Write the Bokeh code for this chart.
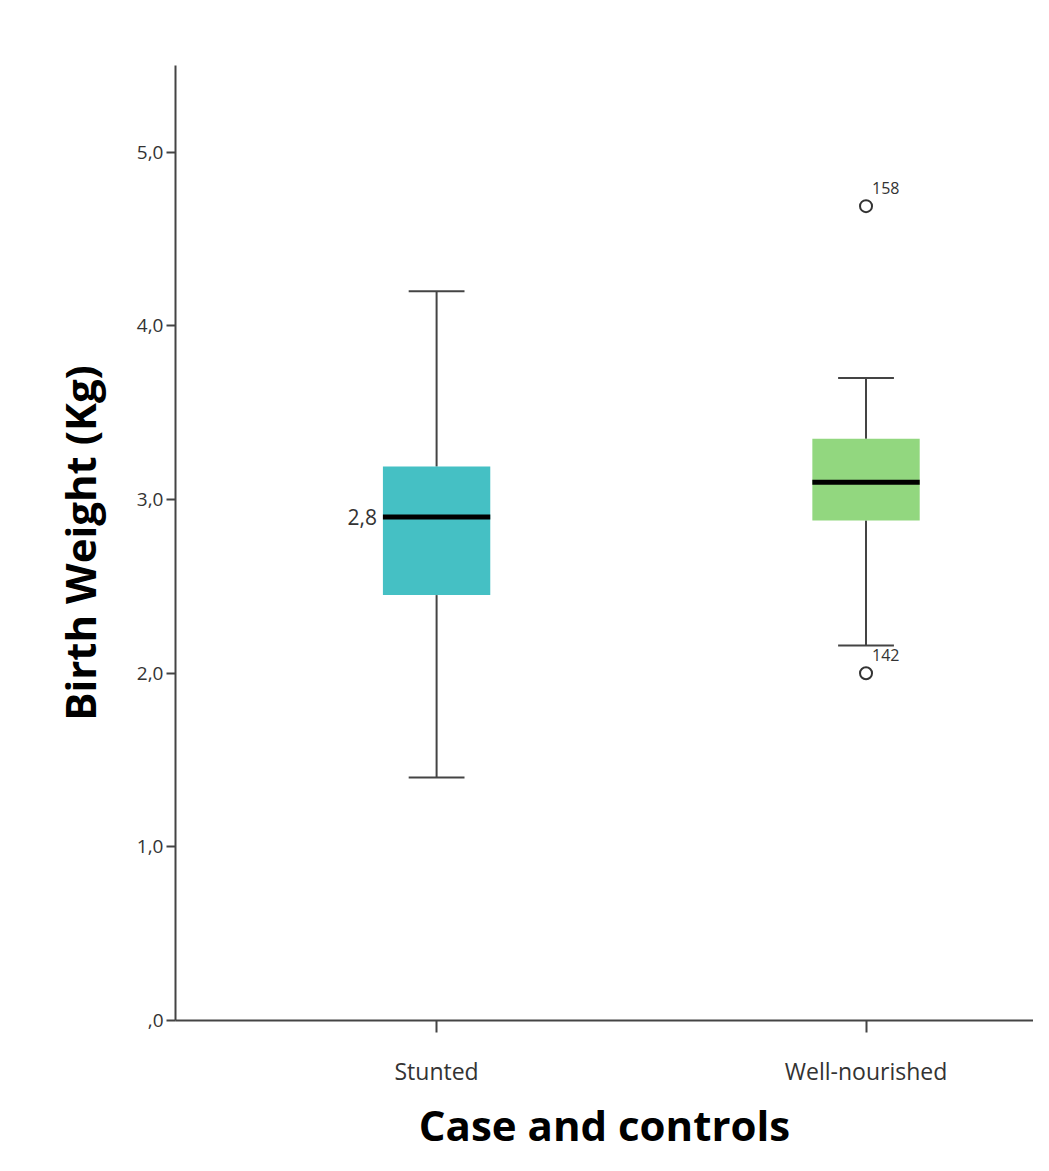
import numpy as np
from bokeh.plotting import figure
from bokeh.models import Range1d, FixedTicker, ColumnDataSource
from bokeh.core.properties import value
from bokeh.embed import file_html
from bokeh.resources import INLINE

# ---- data ----
categories = ["Stunted", "Well-nourished"]
q1 = [2.45, 2.88]
medians = [2.90, 3.10]
q3 = [3.19, 3.35]
whisker_low = [1.40, 2.16]
whisker_high = [4.20, 3.70]
box_colors = ["#45C0C4", "#92D77F"]
outlier_cat = ["Well-nourished", "Well-nourished"]
outlier_val = [4.69, 2.00]
outlier_id = ["158", "142"]
median_note = "2,8"
y_ticks = [0, 1, 2, 3, 4, 5]
y_tick_labels = [",0", "1,0", "2,0", "3,0", "4,0", "5,0"]

pos = {c: i + 1 for i, c in enumerate(categories)}
xs = np.array([pos[c] for c in categories], dtype=float)
box_w = 0.25
cap_w = 0.13
FONT = "Open Sans"

p = figure(width=1033, height=1155, output_backend="svg", toolbar_location=None,
           x_range=Range1d(0.392, 2.39), y_range=Range1d(0, 5.5),
           min_border_left=175, min_border_right=0, min_border_top=65,
           min_border_bottom=135)
p.outline_line_color = None
p.xgrid.visible = False
p.ygrid.visible = False
p.background_fill_color = "white"
p.border_fill_color = "white"

src = ColumnDataSource(dict(x=xs, q1=q1, q3=q3, med=medians, lo=whisker_low,
                            hi=whisker_high, color=box_colors,
                            xl=xs - box_w / 2, xr=xs + box_w / 2,
                            cl=xs - cap_w / 2, cr=xs + cap_w / 2))

# whiskers
p.segment(x0="x", x1="x", y0="q3", y1="hi", source=src, line_color="#444444", line_width=2)
p.segment(x0="x", x1="x", y0="q1", y1="lo", source=src, line_color="#444444", line_width=2)
p.segment(x0="cl", x1="cr", y0="hi", y1="hi", source=src, line_color="#444444", line_width=2)
p.segment(x0="cl", x1="cr", y0="lo", y1="lo", source=src, line_color="#444444", line_width=2)
# boxes
p.vbar(x="x", width=box_w, bottom="q1", top="q3", source=src, fill_color="color", line_color=None)
# medians
p.segment(x0="xl", x1="xr", y0="med", y1="med", source=src, line_color="black", line_width=5)

# outliers
ox = [pos[c] for c in outlier_cat]
osrc = ColumnDataSource(dict(x=ox, y=outlier_val, t=outlier_id))
p.scatter(x="x", y="y", source=osrc, marker="circle", size=12, fill_color=None,
          line_color="#333333", line_width=2)
p.text(x="x", y="y", text="t", source=osrc, x_offset=6, y_offset=-12,
       text_font=value(FONT), text_font_size="16px",
       text_color="#333333", text_baseline="bottom", text_align="left")

# median note
p.text(x=[xs[0] - box_w / 2], y=[medians[0]], text=[median_note], x_offset=-6,
       text_font=value(FONT), text_font_size="21px",
       text_color="#333333", text_baseline="middle", text_align="right")

# axes
p.yaxis.ticker = FixedTicker(ticks=y_ticks)
p.yaxis.major_label_overrides = {t: l for t, l in zip(y_ticks, y_tick_labels)}
p.yaxis.minor_tick_line_color = None
p.yaxis.major_tick_in = 0
p.yaxis.major_tick_out = 9
p.yaxis.major_tick_line_width = 2
p.yaxis.major_tick_line_color = "#444444"
p.yaxis.axis_line_width = 2
p.yaxis.axis_line_color = "#444444"
p.yaxis.major_label_text_font = FONT
p.yaxis.major_label_text_font_size = "19px"
p.yaxis.major_label_text_color = "#333333"
p.yaxis.major_label_standoff = 3
p.yaxis.axis_label = "Birth Weight (Kg)"
p.yaxis.axis_label_text_font = FONT
p.yaxis.axis_label_text_font_style = "bold"
p.yaxis.axis_label_text_font_size = "42px"
p.yaxis.axis_label_text_color = "black"
p.yaxis.axis_label_standoff = 26

p.xaxis.ticker = FixedTicker(ticks=list(xs))
p.xaxis.major_label_overrides = {int(pos[c]): c for c in categories}
p.xaxis.minor_tick_line_color = None
p.xaxis.major_tick_in = 0
p.xaxis.major_tick_out = 12
p.xaxis.major_tick_line_width = 2
p.xaxis.major_tick_line_color = "#444444"
p.xaxis.axis_line_width = 2
p.xaxis.axis_line_color = "#444444"
p.xaxis.major_label_text_font = FONT
p.xaxis.major_label_text_font_size = "23px"
p.xaxis.major_label_text_color = "#333333"
p.xaxis.major_label_standoff = 22
p.xaxis.axis_label = "Case and controls"
p.xaxis.axis_label_text_font = FONT
p.xaxis.axis_label_text_font_style = "bold"
p.xaxis.axis_label_text_font_size = "42px"
p.xaxis.axis_label_text_color = "black"
p.xaxis.axis_label_standoff = 6

open("out.html", "w").write(file_html(p, INLINE))
